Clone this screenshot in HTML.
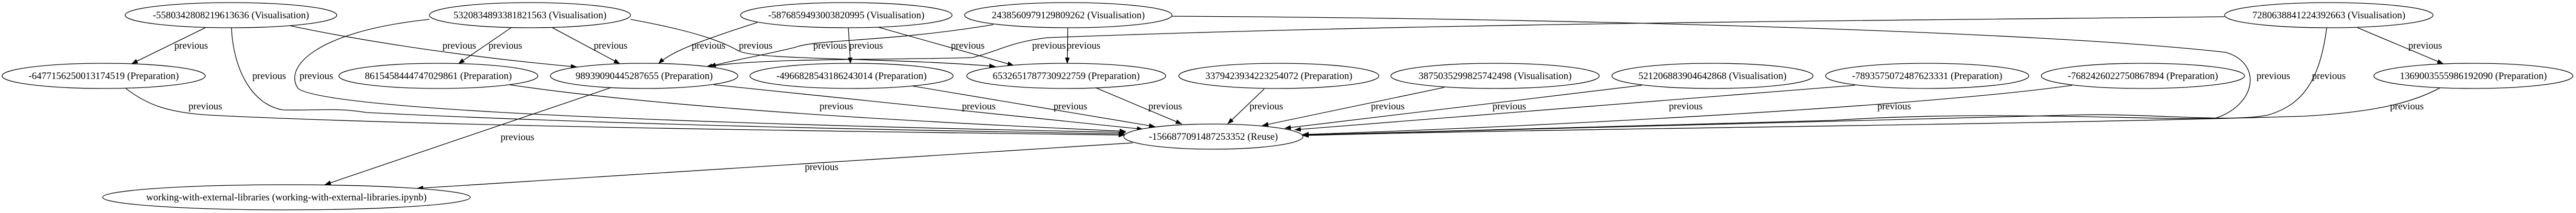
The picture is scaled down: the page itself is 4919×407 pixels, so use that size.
<!DOCTYPE html>
<html><head><meta charset="utf-8"><style>
html,body{margin:0;padding:0;background:#fff;}
svg{display:block}
text{font-family:"Liberation Serif",serif;font-size:18.7px;text-anchor:middle;fill:#000}
</style></head><body>
<svg width="4919" height="407" viewBox="0 0 4919 407" xmlns="http://www.w3.org/2000/svg">
<defs><marker id="a" markerUnits="userSpaceOnUse" markerWidth="14" markerHeight="10" refX="12" refY="4.5" orient="auto"><path d="M0,0 L12,4.5 L0,9 z" fill="#000"/></marker></defs>
<g fill="none" stroke="#000" stroke-width="1.3" marker-end="url(#a)">
<path d="M392,53 L251,122"/>
<path d="M442,53 C445,130 480,200 540,210 C600,212 640,205 700,215 C1200,240 1800,250 2148,256"/>
<path d="M553,49 C700,80 900,110 1102,128"/>
<path d="M820,37 C600,60 540,130 570,170 C620,200 1000,230 2150,253"/>
<path d="M976,53 L875,122"/>
<path d="M1055,53 L1184,122"/>
<path d="M1204,37 C1330,60 1380,80 1410,97 C1440,115 1700,110 1901,127"/>
<path d="M239,168 C280,200 320,215 400,220 C800,240 1500,250 2148,258"/>
<path d="M973,162 C1300,210 1800,235 2150,251"/>
<path d="M1165,168 L620,353"/>
<path d="M1363,162 L2183,247"/>
<path d="M2163,273 L796,360"/>
<path d="M1446,43 C1330,80 1280,100 1257,122"/>
<path d="M1620,53 L1624,122"/>
<path d="M1677,52 L1936,125"/>
<path d="M1897,47 C1700,80 1560,75 1520,90 C1460,105 1400,115 1355,127"/>
<path d="M2039,53 L2038,122"/>
<path d="M2238,31 C3000,35 3900,60 4250,100 C4320,120 4310,200 4230,226 C4100,230 3800,210 3500,230 L2487,258"/>
<path d="M4248,32 C3500,40 2700,45 2000,72 C1930,80 1900,100 1857,110 C1700,115 1450,110 1348,128"/>
<path d="M4443,53 C4430,150 4400,200 4330,220 C4250,235 4100,215 3950,220 C3500,235 3000,248 2487,258"/>
<path d="M4502,53 L4666,122"/>
<path d="M4659,168 C4600,200 4520,215 4400,222 C3800,240 3000,245 2487,259"/>
<path d="M3957,163 C3700,200 3000,240 2487,257"/>
<path d="M3542,163 L2472,248"/>
<path d="M3135,163 L2453,245"/>
<path d="M2758,167 L2410,240"/>
<path d="M2414,170 L2344,237"/>
<path d="M2093,168 L2257,237"/>
<path d="M1740,164 L2206,242"/>
</g>
<g fill="#fff" stroke="#000" stroke-width="1.3">
<ellipse cx="441" cy="29" rx="202" ry="24"/>
<ellipse cx="1012" cy="29" rx="192" ry="24"/>
<ellipse cx="198" cy="145" rx="194" ry="24"/>
<ellipse cx="837" cy="145" rx="190" ry="24"/>
<ellipse cx="1230" cy="145" rx="179" ry="24"/>
<ellipse cx="547" cy="377" rx="351" ry="24"/>
<ellipse cx="1616" cy="29" rx="202" ry="24"/>
<ellipse cx="2040" cy="29" rx="198" ry="24"/>
<ellipse cx="1626" cy="145" rx="194" ry="24"/>
<ellipse cx="2036" cy="145" rx="190" ry="24"/>
<ellipse cx="2442" cy="145" rx="191" ry="24"/>
<ellipse cx="2317" cy="261" rx="171" ry="24"/>
<ellipse cx="2855" cy="145" rx="199" ry="24"/>
<ellipse cx="3270" cy="145" rx="192" ry="24"/>
<ellipse cx="3680" cy="145" rx="194" ry="24"/>
<ellipse cx="4092" cy="145" rx="194" ry="24"/>
<ellipse cx="4447" cy="29" rx="199" ry="24"/>
<ellipse cx="4723" cy="145" rx="190" ry="24"/>
</g>
<text x="441" y="35">-5580342808219613636 (Visualisation)</text>
<text x="1012" y="35">5320834893381821563 (Visualisation)</text>
<text x="198" y="151">-6477156250013174519 (Preparation)</text>
<text x="837" y="151">8615458444747029861 (Preparation)</text>
<text x="1230" y="151">98939090445287655 (Preparation)</text>
<text x="547" y="383">working-with-external-libraries (working-with-external-libraries.ipynb)</text>
<text x="1616" y="35">-5876859493003820995 (Visualisation)</text>
<text x="2040" y="35">2438560979129809262 (Visualisation)</text>
<text x="1626" y="151">-4966828543186243014 (Preparation)</text>
<text x="2036" y="151">6532651787730922759 (Preparation)</text>
<text x="2442" y="151">3379423934223254072 (Preparation)</text>
<text x="2317" y="267">-1566877091487253352 (Reuse)</text>
<text x="2855" y="151">3875035299825742498 (Visualisation)</text>
<text x="3270" y="151">521206883904642868 (Visualisation)</text>
<text x="3680" y="151">-7893575072487623331 (Preparation)</text>
<text x="4092" y="151">-7682426022750867894 (Preparation)</text>
<text x="4447" y="35">7280638841224392663 (Visualisation)</text>
<text x="4723" y="151">1369003555986192090 (Preparation)</text>
<g>
<text x="365" y="93">previous</text><text x="514" y="151">previous</text><text x="877" y="93">previous</text>
<text x="604" y="151">previous</text><text x="965" y="93">previous</text><text x="1166" y="93">previous</text>
<text x="1443" y="93">previous</text><text x="392" y="209">previous</text><text x="1597" y="209">previous</text>
<text x="988" y="268">previous</text><text x="1869" y="209">previous</text><text x="1569" y="325">previous</text>
<text x="1353" y="93">previous</text><text x="1654" y="93">previous</text><text x="1848" y="93">previous</text>
<text x="1585" y="93">previous</text><text x="2069" y="93">previous</text><text x="4341" y="151">previous</text>
<text x="2003" y="93">previous</text><text x="4447" y="151">previous</text><text x="4631" y="93">previous</text>
<text x="4596" y="209">previous</text><text x="3617" y="209">previous</text><text x="3219" y="209">previous</text>
<text x="2882" y="209">previous</text><text x="2650" y="209">previous</text><text x="2418" y="209">previous</text>
<text x="2225" y="209">previous</text><text x="2044" y="209">previous</text>
</g>
</svg>
</body></html>
